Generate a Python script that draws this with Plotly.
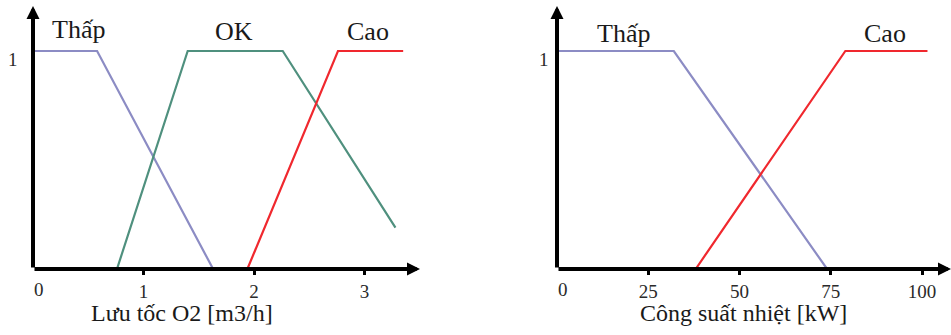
import plotly.graph_objects as go
from plotly.subplots import make_subplots

# Membership functions for O2 flow rate [m3/h]
o2_low_x = [0.0, 0.58, 1.63]
o2_low_y = [1, 1, 0]
o2_ok_x = [0.76, 1.40, 2.26, 3.28]
o2_ok_y = [0, 1, 1, 0.19]
o2_high_x = [1.94, 2.76, 3.35]
o2_high_y = [0, 1, 1]

# Membership functions for heat output [kW]
kw_low_x = [0, 32, 74]
kw_low_y = [1, 1, 0]
kw_high_x = [38, 79, 101.5]
kw_high_y = [0, 1, 1]

o2_ticks = [1, 2, 3]
kw_ticks = [25, 50, 75, 100]

C_LOW = "#8c8cc4"
C_OK = "#4f907e"
C_HIGH = "#f0282e"
FONT = "Liberation Serif"
W, H = 951, 335

# pixel layout of each panel
Y0_PX, YTOP_PX, Y1_PX = 269, 6, 51
L_X0, L_X1 = 33, 420
R_X0, R_X1 = 557, 951
L_SCALE = 110.5       # px per m3/h
R_SCALE = 3.65        # px per kW

y_top = (Y0_PX - YTOP_PX) / (Y0_PX - Y1_PX)
l_max = (L_X1 - L_X0) / L_SCALE
r_max = (R_X1 - R_X0) / R_SCALE

fig = make_subplots(rows=1, cols=2)

fig.add_trace(go.Scatter(x=o2_low_x, y=o2_low_y, mode="lines",
                         line=dict(color=C_LOW, width=2.2)), 1, 1)
fig.add_trace(go.Scatter(x=o2_ok_x, y=o2_ok_y, mode="lines",
                         line=dict(color=C_OK, width=2.2)), 1, 1)
fig.add_trace(go.Scatter(x=o2_high_x, y=o2_high_y, mode="lines",
                         line=dict(color=C_HIGH, width=2.2)), 1, 1)
fig.add_trace(go.Scatter(x=kw_low_x, y=kw_low_y, mode="lines",
                         line=dict(color=C_LOW, width=2.2)), 1, 2)
fig.add_trace(go.Scatter(x=kw_high_x, y=kw_high_y, mode="lines",
                         line=dict(color=C_HIGH, width=2.2)), 1, 2)

ydom = [(H - Y0_PX) / H, (H - YTOP_PX) / H]
axis_common = dict(showgrid=False, zeroline=False, showline=False,
                   ticks="outside", ticklen=5, tickwidth=3, tickcolor="black",
                   tickfont=dict(family=FONT, size=19, color="#2a2a2a"))
fig.update_layout(
    xaxis=dict(domain=[L_X0 / W, L_X1 / W], range=[0, l_max],
               tickvals=o2_ticks, **axis_common),
    xaxis2=dict(domain=[R_X0 / W, R_X1 / W], range=[0, r_max],
                tickvals=kw_ticks, **axis_common),
    yaxis=dict(domain=ydom, range=[0, y_top], visible=False),
    yaxis2=dict(domain=ydom, range=[0, y_top], visible=False),
)

annotations = []
# axes with arrowheads, zero label and the "1" level label
for xr, yr, xmax in (("x", "y", l_max), ("x2", "y2", r_max)):
    annotations.append(dict(x=0, y=y_top, ax=0, ay=0, xref=xr, yref=yr,
                            axref=xr, ayref=yr, showarrow=True, text="",
                            arrowhead=2, arrowsize=0.65, arrowwidth=4,
                            arrowcolor="black", standoff=0, startstandoff=0))
    annotations.append(dict(x=xmax, y=0, ax=0, ay=0, xref=xr, yref=yr,
                            axref=xr, ayref=yr, showarrow=True, text="",
                            arrowhead=2, arrowsize=0.65, arrowwidth=4,
                            arrowcolor="black", standoff=0, startstandoff=0))
    annotations.append(dict(x=0, y=0, xref=xr, yref=yr, text="0",
                            showarrow=False, xanchor="center", yanchor="middle",
                            xshift=6, yshift=-20,
                            font=dict(family=FONT, size=19, color="#2a2a2a")))
    annotations.append(dict(x=0, y=1, xref=xr, yref=yr, text="1",
                            showarrow=False, xanchor="center", yanchor="middle",
                            xshift=-20 if xr == "x" else -13, yshift=-9,
                            font=dict(family=FONT, size=19, color="#2a2a2a")))

# set names
def label(text, x, y, xr, yr, size=26):
    annotations.append(dict(x=x, y=y, xref=xr, yref=yr, text=text,
                            showarrow=False, xanchor="center", yanchor="middle",
                            font=dict(family=FONT, size=size, color="#1a1a1a")))

label("Thấp", 0.41, 1.10, "x", "y")
label("OK", 1.82, 1.09, "x", "y")
label("Cao", 3.03, 1.09, "x", "y")
label("Thấp", 18.1, 1.08, "x2", "y2")
label("Cao", 89.9, 1.08, "x2", "y2")

# axis titles, placed below the axes in paper space
title_y = (H - 313) / H
label("Lưu tốc O2 [m3/h]", 1.35, title_y, "x", "paper", 24)
label("Công suất nhiệt [kW]", 51.0, title_y, "x2", "paper", 24)

fig.update_layout(annotations=annotations, showlegend=False,
                  width=W, height=H, margin=dict(l=0, r=0, t=0, b=0),
                  paper_bgcolor="white", plot_bgcolor="white")

fig.write_html("out.html")
